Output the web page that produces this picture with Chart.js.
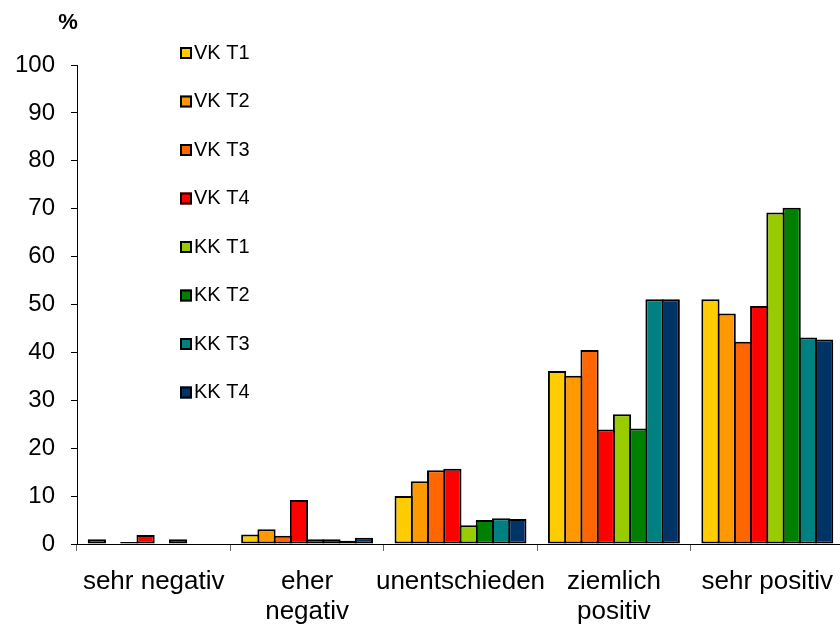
<!DOCTYPE html>
<html>
<head>
<meta charset="utf-8">
<script src="https://cdn.jsdelivr.net/npm/chart.js@4.4.1/dist/chart.umd.min.js"></script>
<style>
  html,body{margin:0;padding:0;background:#fff;overflow:hidden;}
  #wrap{position:relative;width:844px;height:628px;}
</style>
</head>
<body>
<div id="wrap"><canvas id="c"></canvas></div>
<script>
/* categories + series */
const categories = ['sehr negativ', ['eher', 'negativ'], 'unentschieden', ['ziemlich', 'positiv'], 'sehr positiv'];
const seriesNames = ['VK T1', 'VK T2', 'VK T3', 'VK T4', 'KK T1', 'KK T2', 'KK T3', 'KK T4'];
const seriesColors = ['#FFCC00', '#FF9900', '#FF6600', '#FF0000', '#99CC00', '#008000', '#008080', '#003366'];
const vkT1 = [1.0, 2.0, 10.0, 36.1, 51.1];
const vkT2 = [0, 3.1, 13.1, 35.1, 48.1];
const vkT3 = [0.4, 1.7, 15.4, 40.5, 42.2];
const vkT4 = [1.9, 9.2, 15.7, 23.9, 49.7];
const kkT1 = [0, 1.0, 3.9, 27.1, 69.2];
const kkT2 = [1.0, 1.0, 5.0, 24.1, 70.2];
const kkT3 = [0, 0.7, 5.4, 51.1, 43.1];
const kkT4 = [0, 1.3, 5.2, 51.1, 42.7];
const yTicks = [0, 10, 20, 30, 40, 50, 60, 70, 80, 90, 100];

const FONT = "'Liberation Sans', Arial, sans-serif";
const seriesValues = [vkT1, vkT2, vkT3, vkT4, kkT1, kkT2, kkT3, kkT4];

/* legend stacked in the plot + the "%" label */
const extras = {
  id: 'extras',
  afterDraw(chart){
    const ctx = chart.ctx;
    ctx.save();
    ctx.fillStyle = '#000';
    ctx.font = 'bold 22px ' + FONT;
    ctx.textAlign = 'center';
    ctx.textBaseline = 'alphabetic';
    ctx.fillText('%', 68, 29);
    ctx.font = '20px ' + FONT;
    ctx.textAlign = 'left';
    ctx.textBaseline = 'middle';
    chart.data.datasets.forEach((ds, i)=>{
      const y = 53 + i * 48.5;
      ctx.fillStyle = ds.backgroundColor;
      ctx.fillRect(180, y - 6, 12, 12);
      ctx.lineWidth = 2;
      ctx.strokeStyle = '#000';
      ctx.strokeRect(181, y - 5, 10, 10);
      ctx.fillStyle = '#000';
      ctx.fillText(ds.label, 194, y);
    });
    ctx.restore();
  }
};

new Chart(document.getElementById('c'), {
  type: 'bar',
  data: {
    labels: categories,
    datasets: seriesNames.map((n, i)=>({
      label: n,
      data: seriesValues[i],
      backgroundColor: seriesColors[i],
      borderColor: '#000',
      borderWidth: 2,
      borderSkipped: false
    }))
  },
  options: {
    responsive: true,
    maintainAspectRatio: false,
    animation: false,
    // bars overlap by one border so neighbours share a single 2px edge
    categoryPercentage: 0.847,
    barPercentage: 1.123,
    layout: {padding: {top: 65, right: 0, bottom: 0, left: 0}},
    plugins: {legend: {display: false}, tooltip: {enabled: false}},
    scales: {
      x: {
        offset: true,
        grid: {offset: true, drawOnChartArea: false, tickLength: 7, color: '#666'},
        border: {color: '#000', width: 1},
        ticks: {color: '#000', font: {family: FONT, size: 26, lineHeight: 1.15}, padding: 16, maxRotation: 0, autoSkip: false},
        afterFit(s){ s.height = 84; s.paddingLeft = 0; s.paddingRight = 0; }
      },
      y: {
        min: 0, max: 100,
        afterBuildTicks(s){ s.ticks = yTicks.map(v=>({value: v})); },
        grid: {drawOnChartArea: false, tickLength: 6, color: '#000'},
        border: {color: '#000', width: 1},
        ticks: {color: '#000', font: {family: FONT, size: 24}, padding: 16},
        afterFit(s){ s.width = 77; }
      }
    }
  },
  plugins: [extras]
});
</script>
</body>
</html>
